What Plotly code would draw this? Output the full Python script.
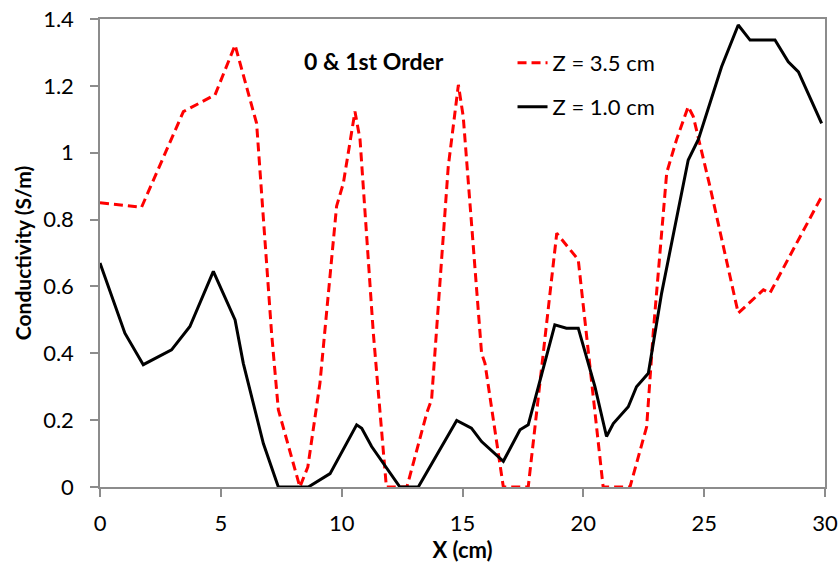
import plotly.graph_objects as go

# Z = 3.5 cm (red dashed)
x_red = [0, 1.72, 3.45, 4.76, 5.59, 6.34, 6.48, 7.1, 7.38, 8.27, 8.6, 9.1, 9.79, 10.07,
         10.55, 10.76, 11.31, 11.85, 12.7, 13.52, 13.72, 14.41, 14.83, 15.03, 15.79, 15.93,
         16.69, 17.72, 18.2, 18.9, 19.79, 20.82, 21.93, 22.62, 22.89, 23.45, 23.86, 24.34,
         24.55, 25.24, 26.41, 27.45, 27.72, 29.86]
y_red = [0.85, 0.837, 1.123, 1.173, 1.322, 1.128, 1.088, 0.46, 0.231, 0.0, 0.06, 0.31, 0.84, 0.909,
         1.123, 1.04, 0.46, 0.0, 0.0, 0.221, 0.261, 0.958, 1.203, 1.108, 0.40, 0.37,
         0.0, 0.0, 0.31, 0.759, 0.68, 0.0, 0.0, 0.18, 0.46, 0.94, 1.04, 1.138,
         1.108, 0.899, 0.52, 0.59, 0.58, 0.869]

# Z = 1.0 cm (black solid)
x_blk = [0, 1.03, 1.79, 2.96, 3.72, 4.2, 4.69, 5.59, 5.93, 6.76, 7.38, 8.62, 9.52, 10.62,
         10.83, 11.24, 12.41, 13.17, 14.76, 15.37, 15.79, 16.69, 17.38, 17.72, 18.34, 18.82,
         19.3, 19.79, 20.48, 20.96, 21.24, 21.86, 22.2, 22.69, 23.24, 24.34, 24.76, 25.72,
         26.41, 26.9, 27.93, 28.48, 28.9, 29.86]
y_blk = [0.67, 0.46, 0.366, 0.41, 0.48, 0.56, 0.645, 0.50, 0.37, 0.13, 0.0, 0.0, 0.04, 0.186,
         0.176, 0.121, 0.0, 0.0, 0.199, 0.176, 0.136, 0.077, 0.171, 0.186, 0.35, 0.485,
         0.475, 0.475, 0.30, 0.151, 0.19, 0.24, 0.30, 0.34, 0.58, 0.978, 1.04, 1.257,
         1.382, 1.337, 1.337, 1.272, 1.242, 1.088]

y_ticks = [0, 0.2, 0.4, 0.6, 0.8, 1.0, 1.2, 1.4]
y_tick_text = ["0", "0.2", "0.4", "0.6", "0.8", "1", "1.2", "1.4"]
x_ticks = [0, 5, 10, 15, 20, 25, 30]

FONT = "Lato, 'Open Sans', sans-serif"
AX = "#8c8c8c"

fig = go.Figure()
fig.add_trace(go.Scatter(x=x_red, y=y_red, mode="lines", name="Z = 3.5 cm",
                         line=dict(color="#ff0000", width=3, dash="9px,5px"),
                         legend="legend", showlegend=True))
fig.add_trace(go.Scatter(x=x_blk, y=y_blk, mode="lines", name="Z = 1.0 cm",
                         line=dict(color="#000000", width=3),
                         legend="legend2", showlegend=True))

legend_common = dict(font=dict(family=FONT, size=22, color="black"),
                     bgcolor="rgba(0,0,0,0)", xanchor="left", yanchor="middle",
                     itemwidth=30, visible=True)

fig.update_layout(
    width=840, height=563,
    margin=dict(l=100, r=15, t=19, b=76),
    paper_bgcolor="white", plot_bgcolor="white",
    showlegend=True,
    font=dict(family=FONT, size=22, color="black"),
    legend=dict(x=0.569, y=0.906, **legend_common),
    legend2=dict(x=0.569, y=0.812, **legend_common),
    xaxis=dict(range=[0, 30], tickvals=x_ticks, showgrid=False, zeroline=False,
               showline=True, linecolor=AX, linewidth=1.5, mirror=True,
               ticks="outside", ticklen=8, tickcolor=AX, tickwidth=1.5,
               ticklabelstandoff=8, automargin=False,
               tickfont=dict(family=FONT, size=22),
               title=dict(text="<b>X (cm)</b>", font=dict(family=FONT, size=22), standoff=4)),
    yaxis=dict(range=[0, 1.4], tickvals=y_ticks, ticktext=y_tick_text, showgrid=False,
               zeroline=False, showline=True, linecolor=AX, linewidth=1.5, mirror=True,
               ticks="outside", ticklen=8, tickcolor=AX, tickwidth=1.5,
               ticklabelstandoff=12, automargin=False,
               tickfont=dict(family=FONT, size=22),
               title=dict(text="<b>Conductivity (S/m)</b>", font=dict(family=FONT, size=21),
                          standoff=6)),
    annotations=[dict(text="<b>0 &amp; 1st Order</b>", x=0.378, y=0.910, xref="paper", yref="paper",
                      showarrow=False, font=dict(family=FONT, size=23, color="black"),
                      xanchor="center", yanchor="middle")],
)

fig.write_html("out.html")
